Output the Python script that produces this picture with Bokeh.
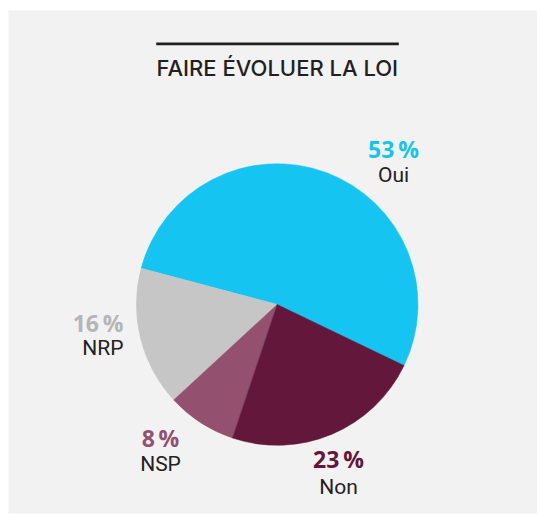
import numpy as np
from bokeh.plotting import figure
from bokeh.models import Range1d, ColumnDataSource
from bokeh.core.properties import value
from bokeh.embed import file_html
from bokeh.resources import INLINE

# ---- data ----
title = "FAIRE ÉVOLUER LA LOI"
categories = ["Oui", "NRP", "NSP", "Non"]          # anticlockwise order
percents = [53, 16, 8, 23]
slice_colors = ["#16c4f1", "#c6c6c6", "#93506f", "#62173b"]
pct_colors = ["#16c4f1", "#b5b5b5", "#93506f", "#62173b"]

# ---- layout (frame coords: x from frame left, y from frame bottom) ----
LEFT, TOPB, BOT = 8, 10, 2
W, H = 537 - LEFT, 515 - TOPB - BOT      # gray frame: x 8..537, y 10..513
FB = 515 - BOT                           # image y of frame bottom
TXT = 9                                  # baseline correction for text glyphs
def fx(sx):
    return sx - LEFT
def fy(sy):
    return FB - sy
def ty(sy):
    return FB - sy + TXT

cx, cy, R = fx(276.7), fy(304.0), 140.8
start_deg = -25.7
label_x = [fx(393), fx(123), fx(160), fx(338)]
label_align = ["center", "right", "center", "center"]
pct_base = [ty(157), ty(331), ty(446), ty(467)]
name_base = [ty(183), ty(356), ty(472), ty(495)]

p = figure(width=537, height=515, output_backend="svg", toolbar_location=None,
           x_range=Range1d(0, W), y_range=Range1d(0, H),
           x_axis_location=None, y_axis_location=None,
           min_border_left=LEFT, min_border_right=0, min_border_bottom=BOT,
           min_border_top=TOPB, border_fill_color="white",
           background_fill_color="#f2f2f2", outline_line_color=None)
p.grid.visible = False

vals = np.array(percents, dtype=float)
fr = vals / vals.sum() * 2 * np.pi
ends = np.radians(start_deg) + np.cumsum(fr)
starts = ends - fr
src = ColumnDataSource(dict(s=starts, e=ends, c=slice_colors))
p.wedge(x=cx, y=cy, radius=R, start_angle="s", end_angle="e", direction="anticlock",
        fill_color="c", line_color="c", line_width=0.5, source=src)

# title + rule
p.segment(x0=[fx(155.7)], y0=[fy(43.3)], x1=[fx(398.3)], y1=[fy(43.3)],
          line_color="#231f20", line_width=2.7)
p.text(x=[fx(276.8)], y=[ty(76.5)], text=[title], text_font=value("'Inter Medium', Inter"),
       text_font_size="22px", text_color="#231f20", text_align="center",
       text_baseline="alphabetic")

for i, cat in enumerate(categories):
    p.text(x=[label_x[i]], y=[pct_base[i]], text=[f"{percents[i]}\u2009%"],
           text_font=value("Open Sans"), text_font_style="bold",
           text_font_size="23px", text_color=pct_colors[i],
           text_align=label_align[i], text_baseline="alphabetic")
    p.text(x=[label_x[i]], y=[name_base[i]], text=[cat],
           text_font=value("Roboto"), text_font_size="21px", text_color="#222222",
           text_align=label_align[i], text_baseline="alphabetic")

open("out.html", "w").write(file_html(p, INLINE))
